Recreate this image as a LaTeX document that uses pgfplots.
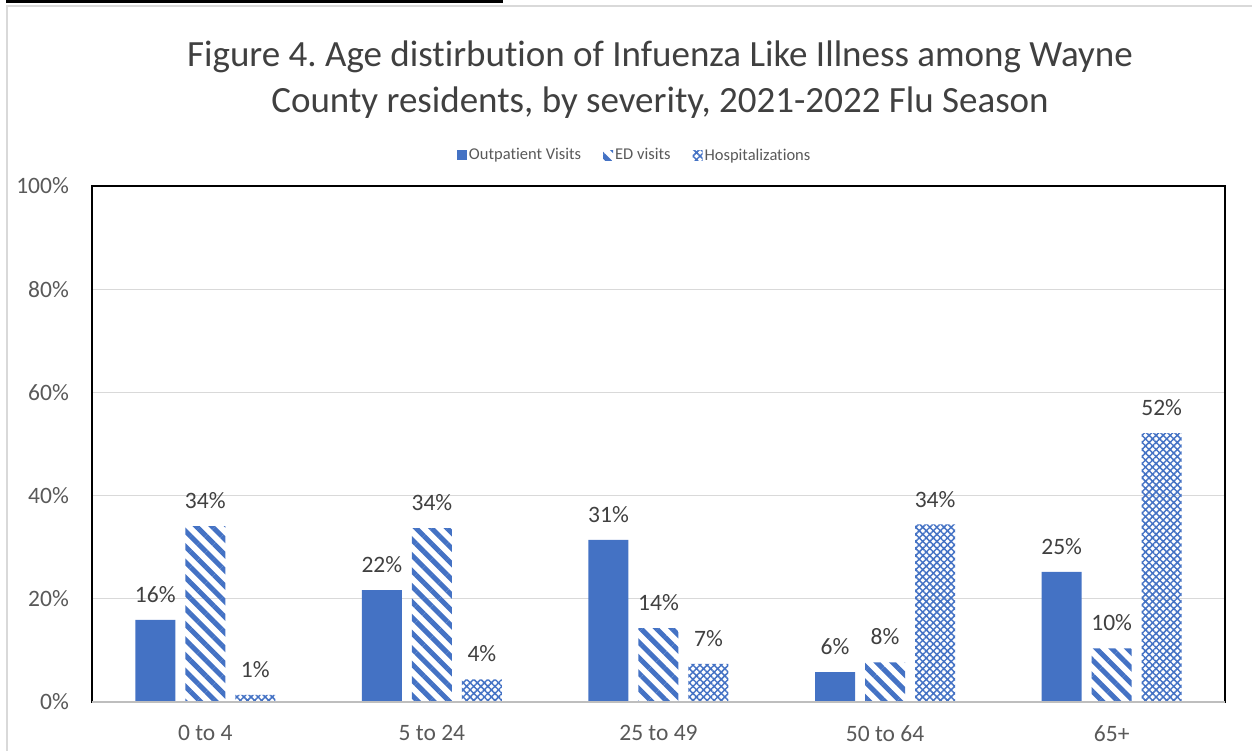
\documentclass[border=0pt]{standalone}
\usepackage{pgfplots}
\pgfplotsset{compat=1.18}
\usepackage{fontspec}
\setmainfont[Ligatures={NoCommon}]{Carlito}
\frenchspacing
\usetikzlibrary{patterns.meta}
\definecolor{barblue}{HTML}{4472C4}
\definecolor{txt}{HTML}{404040}
\definecolor{tickc}{HTML}{595959}
\definecolor{gridc}{HTML}{D9D9D9}
\begin{document}
\begin{tikzpicture}
\path[use as bounding box] (0pt,0pt) rectangle (1252pt,750pt);
\draw[gridc, line width=2pt] (7pt,-5pt) -- (7pt,744pt) -- (1260pt,744pt);
\fill[black] (6pt,747pt) rectangle (503pt,750pt);
\node[txt, align=center, font=\fontsize{37}{46}\selectfont, anchor=base] at (660pt,637pt)
  {Figure 4. Age distirbution of Infuenza Like Illness among Wayne\\County residents, by severity, 2021-2022 Flu Season};
\begin{axis}[
  at={(92pt,48pt)}, anchor=south west, scale only axis,
  width=1133pt, height=516pt,
  xmin=-0.5, xmax=4.5, ymin=0, ymax=100,
  ybar=10pt, bar width=40pt,
  xtick={0,1,2,3,4},
  xticklabels={0 to 4, 5 to 24, 25 to 49, 50 to 64, 65+},
  ytick={0,20,40,60,80,100},
  yticklabel={\pgfmathprintnumber{\tick}\%},
  /pgf/number format/assume math mode=true,
  major tick length=0pt,
  tick label style={tickc, font=\fontsize{23.5}{24}\selectfont},
  yticklabel style={inner sep=0pt, xshift=-23pt},
  xticklabel style={inner sep=0pt, yshift=-23pt},
  ymajorgrids, grid style={gridc, line width=1pt},
  axis line style={black, line width=1.5pt},
  nodes near coords={\pgfmathprintnumber[fixed,precision=0]{\pgfplotspointmeta}\%},
  nodes near coords style={txt, font=\fontsize{23.5}{24}\selectfont, anchor=south, inner sep=0pt, yshift=17pt},
  legend style={at={(0.479,1.06)}, anchor=center, draw=none, fill=none,
    font=\fontsize{16.5}{18}\selectfont, text=tickc, legend columns=3,
    /tikz/every even column/.append style={column sep=20pt}},
  legend image code/.code={\path[#1, draw=none] (0pt,-5pt) rectangle (10pt,5pt);},
]
\addplot[fill=barblue, draw=none] coordinates {(0,15.9) (1,21.7) (2,31.4) (3,5.8) (4,25.2)};
\addlegendentry{Outpatient Visits}
\addplot[draw=none, pattern={Lines[angle=-45, distance=11pt, line width=5pt]}, pattern color=barblue] coordinates {(0,34.1) (1,33.7) (2,14.3) (3,7.7) (4,10.4)};
\addlegendentry{ED visits}
\addplot[draw=none, pattern={Hatch[angle=45, distance=5pt, line width=1.5pt]}, pattern color=barblue] coordinates {(0,1.4) (1,4.4) (2,7.4) (3,34.4) (4,52.1)};
\addlegendentry{Hospitalizations}
\draw[gridc!70!gray, line width=1.5pt] (axis cs:-0.5,0) -- (axis cs:4.5,0);
\end{axis}
\end{tikzpicture}
\end{document}
